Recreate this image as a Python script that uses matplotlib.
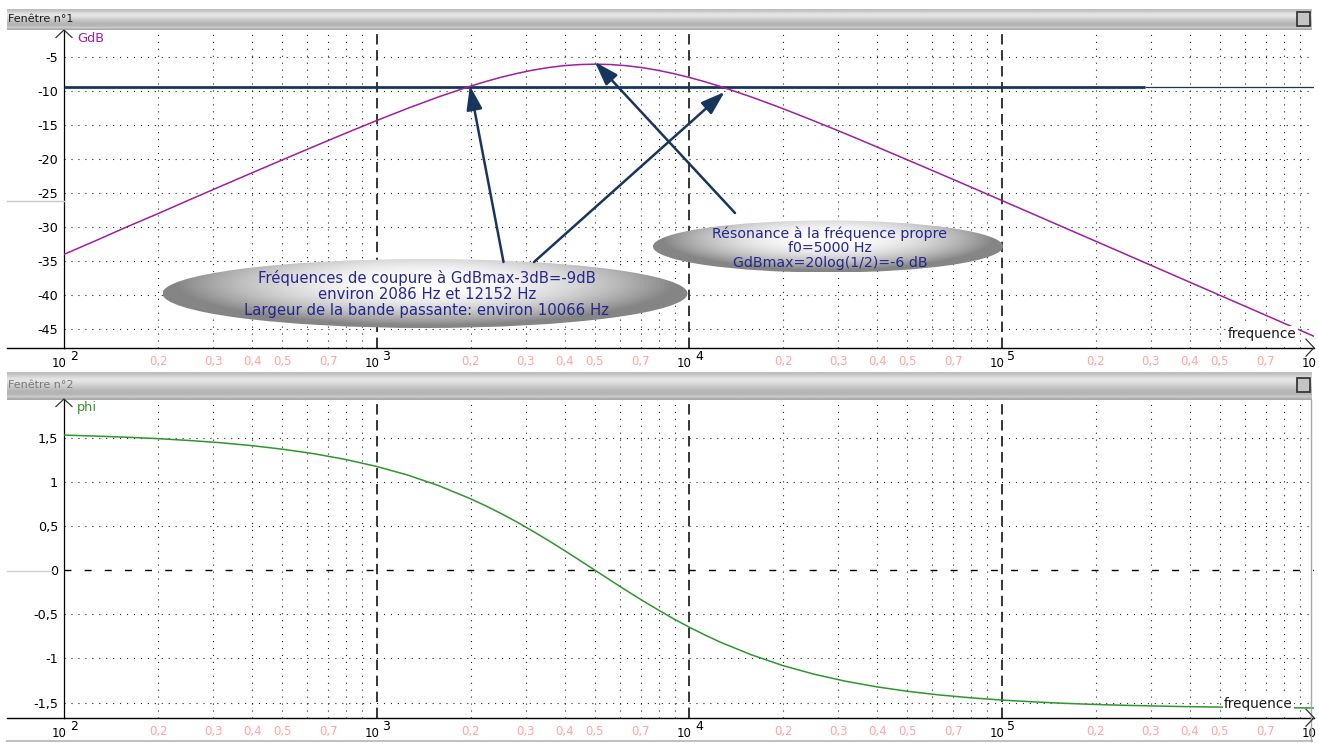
import numpy as np
import matplotlib
matplotlib.use("Agg")
import matplotlib.pyplot as plt
from matplotlib.patches import Ellipse, Rectangle

plt.rcParams['font.family'] = ['DejaVu Sans']
plt.rcParams['lines.scale_dashes'] = False

# ---------------- data ----------------
freq = [100, 126, 158, 200, 251, 316, 398, 501, 631, 794,
        1000, 1259, 1585, 1995, 2239, 2512, 2818, 3162, 3548, 3981, 4467, 5012, 5623,
        6310, 7079, 7943, 8913, 10000, 11220, 12589, 15849, 19953, 25119, 31623, 39811,
        50119, 63096, 79433,
        100000, 125893, 158489, 199526, 251189, 316228, 398107, 501187, 630957, 794328, 1000000]
gdb = [-33.98, -31.99, -29.99, -27.99, -26.00, -24.01, -22.03, -20.07, -18.12, -16.20,
       -14.32, -12.51, -10.81, -9.26, -8.57, -7.93, -7.38, -6.90, -6.52, -6.24, -6.08, -6.02, -6.08,
       -6.25, -6.53, -6.92, -7.40, -7.96, -8.59, -9.29, -10.85, -12.55, -14.36, -16.23, -18.16,
       -20.11, -22.07, -24.05,
       -26.04, -28.03, -30.03, -32.02, -34.02, -36.02, -38.02, -40.02, -42.02, -44.02, -46.02]
phi = [1.531, 1.520, 1.507, 1.491, 1.470, 1.445, 1.412, 1.371, 1.320, 1.256,
       1.176, 1.078, 0.957, 0.811, 0.729, 0.640, 0.545, 0.443, 0.337, 0.226, 0.113, -0.002, -0.117,
       -0.231, -0.341, -0.447, -0.549, -0.644, -0.732, -0.815, -0.959, -1.080, -1.178, -1.257, -1.321,
       -1.372, -1.413, -1.445,
       -1.471, -1.491, -1.508, -1.521, -1.531, -1.539, -1.546, -1.551, -1.555, -1.558, -1.561]

level_db = -9.4                      # horizontal "-9 dB" line
level_thick_f = [100, 287000]        # thick part of that line
level_thin_f = [287000, 1000000]     # thin part
arrow_targets = [(1990, -9.2), (13000, -10.1), (5000, -5.7)]

decades = [2, 3, 4, 5, 6]
minor_labels = [2, 3, 4, 5, 7]
gdb_ticks = [-5, -10, -15, -20, -25, -30, -35, -40, -45]
gdb_ticklabels = ["-5", "-10", "-15", "-20", "-25", "-30", "-35", "-40", "-45"]
phi_ticks = [1.5, 1, 0.5, 0, -0.5, -1, -1.5]
phi_ticklabels = ["1,5", "1", "0,5", "0", "-0,5", "-1", "-1,5"]

note1 = "Fréquences de coupure à GdBmax-3dB=-9dB\nenviron 2086 Hz et 12152 Hz\nLargeur de la bande passante: environ 10066 Hz"
note2 = "Résonance à la fréquence propre\nf0=5000 Hz\nGdBmax=20log(1/2)=-6 dB"

# ---------------- styling ----------------
PURPLE = '#a01ea0'
GREEN = '#2e962e'
NAVY = '#17365d'
TEXTBLUE = '#26268f'
PINK = '#ffa3a3'

W, H = 1319, 743
fig = plt.figure(figsize=(W / 100, H / 100), dpi=100)
fig.patch.set_facecolor('white')


def px_axes(l, t, r, b, **kw):
    return fig.add_axes([l / W, 1 - b / H, (r - l) / W, (b - t) / H], **kw)


X0, X1 = 64, 1314
ax1 = px_axes(X0, 30, X1, 347.7)
ax2 = px_axes(X0, 399, X1, 717.7)


def setup(ax, ylim, yticks, ylabels, dashed_zero=False):
    ax.set_xscale('log')
    ax.set_xlim(1e2, 1e6)
    ax.set_ylim(*ylim)
    ax.set_facecolor('none')
    for s in ['top', 'right']:
        ax.spines[s].set_visible(False)
    ax.spines['left'].set_linewidth(0.9)
    ax.spines['bottom'].set_linewidth(1.0)
    ax.set_yticks(yticks)
    ax.set_yticklabels(ylabels, fontsize=9.2)
    ax.tick_params(axis='y', length=0, pad=4.3)
    ax.set_xticks([])
    ax.set_xticks([], minor=True)
    ax.tick_params(axis='x', which='both', length=0, labelbottom=False)
    for d in decades[:-1]:
        ax.axvline(10 ** d, color='black', lw=1.1, ls=(0, (7.5, 4.0)), zorder=1)
        for m in range(2, 10):
            ax.axvline(m * 10 ** d, color='#222222', lw=0.8, ls=(0, (0.8, 4.2)), zorder=1)
    for y in yticks:
        if dashed_zero and y == 0:
            ax.axhline(y, color='black', lw=1.0, ls=(0, (5, 9.5)), zorder=1)
        else:
            ax.axhline(y, color='#222222', lw=0.8, ls=(0, (0.8, 4.2)), zorder=1)
    # decade labels 10^k and pink minor labels
    for d in decades:
        ax.annotate("10", xy=(10 ** d, 0), xycoords=ax.get_xaxis_transform(),
                    xytext=(-4.5, -15.5), textcoords='offset pixels', ha='center', va='center',
                    fontsize=8.5, color='black', annotation_clip=False)
        if d < decades[-1]:
            ax.annotate(str(d), xy=(10 ** d, 0), xycoords=ax.get_xaxis_transform(),
                        xytext=(10, -8.3), textcoords='offset pixels', ha='center', va='center',
                        fontsize=9, color='black', annotation_clip=False)
    for d in decades[:-1]:
        for m in minor_labels:
            ax.annotate("0,%d" % m, xy=(m * 10 ** d, 0), xycoords=ax.get_xaxis_transform(),
                        xytext=(0, -13.5), textcoords='offset pixels', ha='center', va='center',
                        fontsize=8.5, color=PINK, annotation_clip=False)


# top panel
setup(ax1, (-47.7, -1.0), gdb_ticks, gdb_ticklabels)
ax1.plot(level_thick_f, [level_db, level_db], color=NAVY, lw=2.0, zorder=3, solid_capstyle='butt')
ax1.plot(level_thin_f, [level_db, level_db], color=NAVY, lw=0.9, zorder=3, solid_capstyle='butt')
ax1.plot(freq, gdb, color=PURPLE, lw=1.1, zorder=4)

# bottom panel
setup(ax2, (-1.671, 1.94), phi_ticks, phi_ticklabels, dashed_zero=True)
ax2.plot(freq, phi, color=GREEN, lw=1.1, zorder=4)

# ---------------- overlay (window chrome, notes, arrows) ----------------
ov = fig.add_axes([0, 0, 1, 1], zorder=10)
ov.patch.set_alpha(0)
ov.axis('off')


def title_bar(y0, y1, label, tcolor):
    grad = np.array([0.74, 0.80, 0.86, 0.90, 0.88, 0.84, 0.80, 0.76, 0.72, 0.70, 0.72, 0.80, 0.66])[:, None]
    ov.imshow(grad, cmap='gray', vmin=0, vmax=1, extent=(7, 1312, y1, y0),
              aspect='auto', interpolation='bilinear', zorder=1)
    yc = (y0 + y1) / 2 - 1
    ov.text(8, yc, label, fontsize=8, color=tcolor, va='center', ha='left', zorder=2)
    ov.add_patch(Rectangle((1297, yc - 7), 13, 14, facecolor='#c4c4c4', edgecolor='#383838', lw=1.3, zorder=2))


title_bar(9, 30, "Fenêtre n°1", '#1a1a1a')
title_bar(372, 400, "Fenêtre n°2", '#7a7a7a')
ov.plot([7, 1312], [741, 741], color='#c0c0c0', lw=1.5)
ov.plot([1311, 1311], [400, 741], color='#a8a8a8', lw=1.0)

# axis extensions and arrow heads
for yb in (347.7, 717.7):
    ov.plot([7, X0], [yb, yb], color='black', lw=1.0)
    ov.plot([1306, 1314, 1306], [yb - 8.5, yb, yb + 8.5], color='#333333', lw=0.9)
for yt in (30, 399):
    ov.plot([56, 64, 72], [yt + 7.5, yt, yt + 7.5], color='#333333', lw=0.9)
ov.plot([7, 64], [201, 201], color='#c8c8c8', lw=1.0)
ov.plot([7, 52], [571, 571], color='#d0d0d0', lw=1.0)

ov.text(77, 38, "GdB", fontsize=9.3, color=PURPLE, ha='left', va='center')
ov.text(77, 408, "phi", fontsize=9.3, color=GREEN, ha='left', va='center')
for (xr, yc) in ((1297, 334), (1293, 704)):
    ov.text(xr, yc, "frequence", fontsize=9.8, color='#1a1a1a', ha='right', va='center',
            bbox=dict(boxstyle='square,pad=0.1', facecolor='white', edgecolor='none'), zorder=6)


def bubble(cx, cy, w, h):
    nx, ny = 400, 120
    xs = np.linspace(-1, 1, nx)
    ys = np.linspace(-1, 1, ny)
    Xg, Yg = np.meshgrid(xs, ys)
    d = np.sqrt((Xg / 0.97) ** 2 + ((Yg + 0.3) / 1.25) ** 2)
    val = 1.0 - 0.5 * np.clip(d, 0, 1.6) ** 2.1
    val = np.clip(val, 0.52, 1.0)
    im = ov.imshow(val, cmap='gray', vmin=0, vmax=1, extent=(cx - w / 2, cx + w / 2, cy + h / 2, cy - h / 2),
                   aspect='auto', interpolation='bilinear', zorder=5)
    e = Ellipse((cx, cy), w, h, facecolor='none', edgecolor='none', transform=ov.transData)
    ov.add_patch(e)
    im.set_clip_path(e)


bubble(425, 293.5, 525, 69)
bubble(828, 246.5, 350, 52)
ov.text(427, 294, note1, fontsize=10.7, color=TEXTBLUE, ha='center', va='center', zorder=7, linespacing=1.1)
ov.text(830, 248, note2, fontsize=10.2, color=TEXTBLUE, ha='center', va='center', zorder=7, linespacing=1.06)

tails = [(503.5, 262), (534, 262), (735, 213)]
for (fx, fy), (tx, ty) in zip(arrow_targets, tails):
    ov.annotate('', xy=(fx, fy), xycoords=ax1.transData, xytext=(tx, ty), textcoords='data',
                arrowprops=dict(arrowstyle='-|>,head_length=1.45,head_width=0.48', color=NAVY,
                                lw=1.8, shrinkA=0, shrinkB=0, mutation_scale=10), zorder=6)

ov.set_xlim(0, W)
ov.set_ylim(H, 0)

fig.savefig("out.png", dpi=100, facecolor='white')
